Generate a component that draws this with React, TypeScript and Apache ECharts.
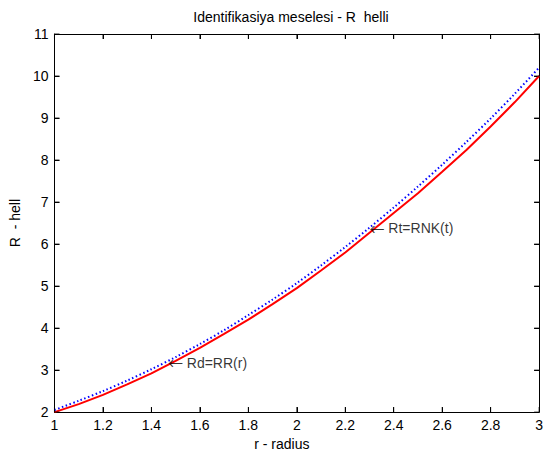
import React, { useEffect, useRef } from "react";
import * as echarts from "echarts";

const radius = [1.0, 1.1, 1.2, 1.3, 1.4, 1.5, 1.6, 1.7, 1.8, 1.9, 2.0, 2.1, 2.2, 2.3, 2.4, 2.5, 2.6, 2.7, 2.8, 2.9, 3.0];
const rdValues = [2.00, 2.19, 2.41, 2.66, 2.92, 3.22, 3.53, 3.86, 4.20, 4.57, 4.95, 5.37, 5.80, 6.27, 6.74, 7.21, 7.72, 8.24, 8.80, 9.38, 10.00];
const rtValues = [2.05, 2.27, 2.50, 2.75, 3.02, 3.31, 3.62, 3.95, 4.31, 4.68, 5.07, 5.49, 5.93, 6.39, 6.87, 7.37, 7.89, 8.43, 8.99, 9.58, 10.20];
const xTicks = [1.0, 1.2, 1.4, 1.6, 1.8, 2.0, 2.2, 2.4, 2.6, 2.8, 3.0];
const yTicks = [2, 3, 4, 5, 6, 7, 8, 9, 10, 11];
const annotations = [
  { r: 1.468, v: 3.17, text: "Rd=RR(r)" },
  { r: 2.3, v: 6.38, text: "Rt=RNK(t)" },
];

const FONT = "Liberation Sans, Arial, sans-serif";
const X_MIN = 1, X_MAX = 3, Y_MIN = 2, Y_MAX = 11;

export default function App() {
  const ref = useRef<HTMLDivElement>(null);
  useEffect(() => {
    if (!ref.current) return;
    const chart = echarts.init(ref.current, undefined, { renderer: "svg" });
    const fmt = (v: number) => String(Math.round(v * 10) / 10);
    const axisLine = () => ({ show: true, onZero: false, lineStyle: { color: "#000", width: 1 } });
    const tick = () => ({ show: true, inside: true, length: 5, lineStyle: { color: "#000", width: 1 } });
    const TL = 5;
    const tickMarks = (data: number[][], size: number[], offset: number[]) => ({
      type: "scatter",
      silent: true,
      clip: false,
      z: 10,
      symbol: "rect",
      symbolSize: size,
      symbolOffset: offset,
      itemStyle: { color: "#000" },
      data,
    });
    chart.setOption({
      animation: false,
      backgroundColor: "#fff",
      title: {
        text: "Identifikasiya meselesi - R  helli",
        left: 286,
        textAlign: "center",
        top: 5,
        textStyle: { fontFamily: FONT, fontSize: 14, fontWeight: "normal", color: "#000" },
      },
      grid: { left: 52, right: 3, top: 34, bottom: 36, containLabel: false },
      xAxis: [
        {
          type: "value", min: X_MIN, max: X_MAX, interval: 0.2,
          name: "r - radius", nameLocation: "middle", nameGap: 24,
          nameTextStyle: { fontFamily: FONT, fontSize: 14, color: "#000", padding: [0, 30, 0, 0] },
          axisLine: axisLine(), axisTick: tick(), splitLine: { show: false },
          axisLabel: { formatter: fmt, fontFamily: FONT, fontSize: 14, color: "#000", margin: 6 },
        },
        {
          type: "value", min: X_MIN, max: X_MAX, interval: 0.2, position: "top",
          axisLine: axisLine(), axisTick: tick(), splitLine: { show: false }, axisLabel: { show: false },
        },
      ],
      yAxis: [
        {
          type: "value", min: Y_MIN, max: Y_MAX, interval: 1,
          name: "R  - hell", nameLocation: "middle", nameGap: 29, nameRotate: 90,
          nameTextStyle: { fontFamily: FONT, fontSize: 14, color: "#000" },
          axisLine: axisLine(), axisTick: tick(), splitLine: { show: false },
          axisLabel: { fontFamily: FONT, fontSize: 14, color: "#000", margin: 6 },
        },
        {
          type: "value", min: Y_MIN, max: Y_MAX, interval: 1, position: "right",
          axisLine: axisLine(), axisTick: tick(), splitLine: { show: false }, axisLabel: { show: false },
        },
      ],
      series: [
        {
          type: "line", name: "Rd",
          data: radius.map((r, i) => [r, rdValues[i]]),
          showSymbol: false, symbol: "none",
          lineStyle: { color: "#ff0000", width: 2 },
          z: 2,
        },
        {
          type: "line", name: "Rt",
          data: radius.map((r, i) => [r, rtValues[i]]),
          showSymbol: false, symbol: "none", smooth: 0.3,
          lineStyle: { color: "#0000ff", width: 2, type: [1.5, 2.5] },
          z: 3,
        },
        {
          type: "scatter",
          data: annotations.map((a) => ({ value: [a.r, a.v], label: { formatter: "{a|\u2190} " + a.text } })),
          symbolSize: 0,
          label: {
            show: true, position: "right", distance: 0,
            fontFamily: FONT, fontSize: 14, color: "#000",
            rich: { a: { fontFamily: "Noto Sans CJK SC", fontSize: 15, color: "#000" } },
          },
          z: 5,
        },
        tickMarks(xTicks.map((t) => [t, Y_MIN]), [1, TL], [0, -TL / 2]),
        tickMarks(xTicks.map((t) => [t, Y_MAX]), [1, TL], [0, TL / 2]),
        tickMarks(yTicks.map((t) => [X_MIN, t]), [TL, 1], [TL / 2, 0]),
        tickMarks(yTicks.map((t) => [X_MAX, t]), [TL, 1], [-TL / 2, 0]),
      ],
    });
    return () => chart.dispose();
  }, []);
  return <div ref={ref} style={{ width: 546, height: 456, position: "absolute", left: 0, top: 0 }} />;
}
